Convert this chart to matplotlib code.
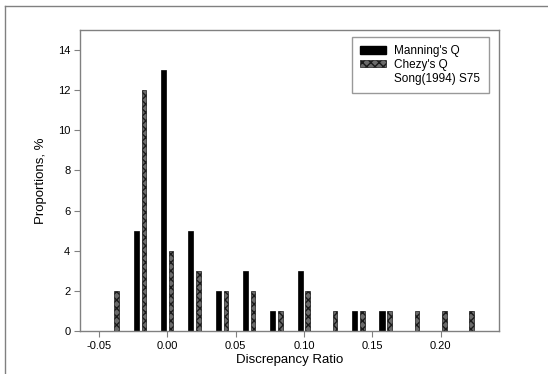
import matplotlib
matplotlib.use("Agg")
import matplotlib.pyplot as plt
from matplotlib.patches import Patch
from matplotlib.lines import Line2D
import numpy as np

plt.rcParams['font.family'] = ['Liberation Sans', 'DejaVu Sans']
plt.rcParams['hatch.linewidth'] = 1.0

bins = [-0.04, -0.02, 0.00, 0.02, 0.04, 0.06, 0.08, 0.10, 0.12, 0.14, 0.16, 0.18, 0.20, 0.22]
manning = [0, 5, 13, 5, 2, 3, 1, 3, 0, 1, 1, 0, 0, 0]
chezy = [2, 12, 4, 3, 2, 2, 1, 2, 1, 1, 1, 1, 1, 1]
xticks = [-0.05, 0.00, 0.05, 0.10, 0.15, 0.20]
yticks = [0, 2, 4, 6, 8, 10, 12, 14]

fig = plt.figure(figsize=(5.48, 3.74), dpi=100)
ax = fig.add_axes([80/548, 43/374, 419.3/548, 301/374])

b = np.array(bins)
gray = '#808080'
ax.bar(b - 0.0028, manning, width=0.0038, color='black', edgecolor='black', linewidth=0.5,
       label="Manning's Q")
ax.bar(b + 0.0028, chezy, width=0.0033, color='#6a6a6a', edgecolor='#1a1a1a', hatch='xxxx',
       linewidth=0.5, label="Chezy's Q")

ax.set_xlim(-0.0639, 0.243)
ax.set_ylim(0, 15)
ax.set_xticks(xticks)
ax.set_xticklabels([f"{t:.2f}" for t in xticks])
ax.set_yticks(yticks)
ax.tick_params(direction='out', length=4, width=0.8, color=gray, labelsize=8, pad=3)
for s in ax.spines.values():
    s.set_color(gray)
    s.set_linewidth(1.0)

ax.set_xlabel('Discrepancy Ratio', fontsize=9.5, labelpad=2)
ax.set_ylabel('Proportions, %', fontsize=9.5, labelpad=8)

h1 = Patch(facecolor='black', edgecolor='black')
h2 = Patch(facecolor='#6a6a6a', edgecolor='#1a1a1a', hatch='xxxx', linewidth=0.5)
h3 = Patch(facecolor='none', edgecolor='none')
leg = ax.legend([h1, h2, h3], ["Manning's Q", "Chezy's Q", "Song(1994) S75"],
                loc='upper right', bbox_to_anchor=(0.98, 0.985), fontsize=8.5,
                fancybox=False, frameon=True, handlelength=2.2, handleheight=0.6,
                handletextpad=0.7, labelspacing=0.15, borderpad=0.7, borderaxespad=0.2)
leg.get_frame().set_edgecolor(gray)
leg.get_frame().set_linewidth(1.0)

# outer border (left and top)
fig.add_artist(Line2D([5/548, 5/548], [0, 1 - 6/374], color=gray, lw=1.0,
                      transform=fig.transFigure))
fig.add_artist(Line2D([5/548, 1], [1 - 6/374, 1 - 6/374], color=gray, lw=1.0,
                      transform=fig.transFigure))

fig.savefig('out.png', dpi=100)
